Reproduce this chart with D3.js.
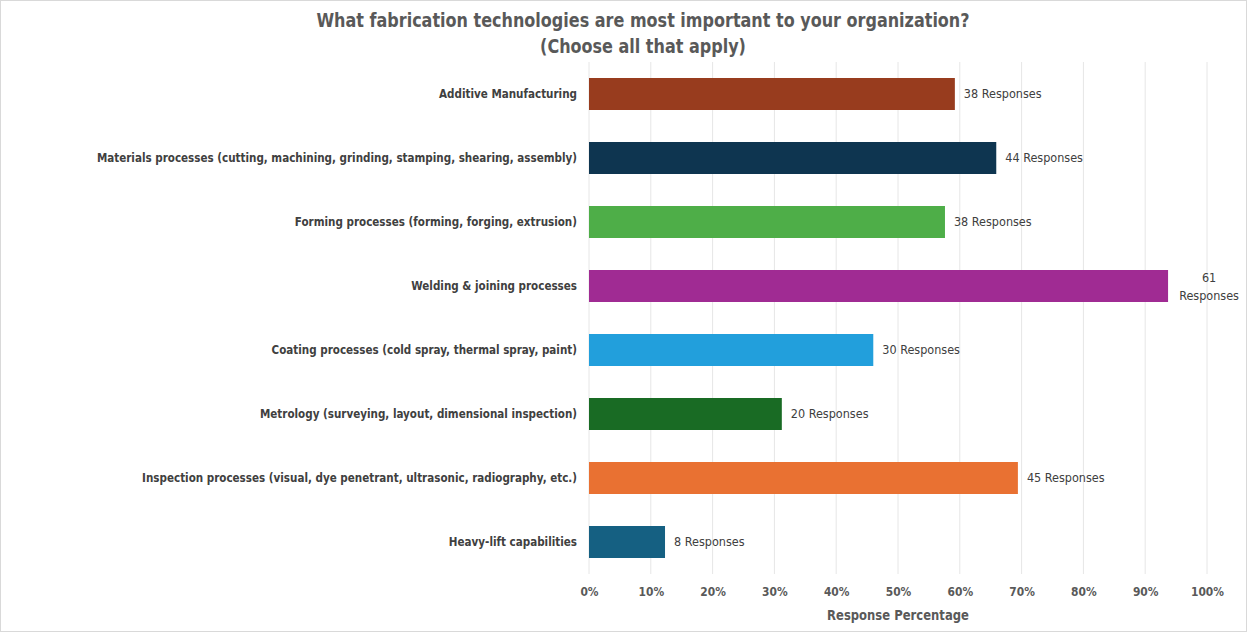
<!DOCTYPE html>
<html>
<head>
<meta charset="utf-8">
<script src="https://cdn.jsdelivr.net/npm/d3@7"></script>
<style>
  html, body { margin: 0; padding: 0; background: #ffffff; }
  svg { display: block; }
  text { font-family: "DejaVu Sans Condensed", "DejaVu Sans", sans-serif; }
</style>
</head>
<body>
<svg id="chart" width="1247" height="632"></svg>
<script>
// Survey results: fabrication technologies ranked by organisations
const categories = [
  "Additive Manufacturing",
  "Materials processes (cutting, machining, grinding, stamping, shearing, assembly)",
  "Forming processes (forming, forging, extrusion)",
  "Welding & joining processes",
  "Coating processes (cold spray, thermal spray, paint)",
  "Metrology (surveying, layout, dimensional inspection)",
  "Inspection processes (visual, dye penetrant, ultrasonic, radiography, etc.)",
  "Heavy-lift capabilities"
];
const responses = [38, 44, 38, 61, 30, 20, 45, 8];
const percentages = [0.592, 0.659, 0.576, 0.937, 0.460, 0.312, 0.694, 0.123];
const barColors = ["#983C1E", "#0E3550", "#4EAE48", "#A02B93", "#229FDC", "#196B24", "#E97132", "#156082"];
const xTicks = [0, 0.1, 0.2, 0.3, 0.4, 0.5, 0.6, 0.7, 0.8, 0.9, 1.0];

const titleLines = ["What fabrication technologies are most important to your organization?", "(Choose all that apply)"];
const xAxisTitle = "Response Percentage";

const W = 1247, H = 632;
const plot = { left: 589, right: 1207, top: 62, bottom: 574 };

const svg = d3.select("#chart");

// narrow the lettering horizontally, keeping its height
function squeeze(sel, factor) {
  sel.each(function () {
    const w = this.getComputedTextLength();
    d3.select(this).attr("textLength", w * factor).attr("lengthAdjust", "spacingAndGlyphs");
  });
}

// outer frame
svg.append("rect")
  .attr("x", 0.5).attr("y", 0.5).attr("width", W - 1).attr("height", H - 1)
  .attr("fill", "#ffffff").attr("stroke", "#d9d9d9");

const x = d3.scaleLinear().domain([0, 1]).range([plot.left, plot.right]);
const y = d3.scaleBand().domain(categories).range([plot.top, plot.bottom]).paddingInner(0.5).paddingOuter(0.25);

// title
const title = svg.append("g").selectAll("text").data(titleLines).join("text")
  .attr("x", 643).attr("y", (d, i) => 27 + i * 26)
  .attr("text-anchor", "middle")
  .attr("font-size", 20).attr("font-weight", "bold")
  .attr("fill", "#595959")
  .text(d => d);
squeeze(title, 0.89);

// vertical gridlines
svg.append("g").selectAll("line").data(xTicks).join("line")
  .attr("x1", d => x(d)).attr("x2", d => x(d))
  .attr("y1", plot.top).attr("y2", plot.bottom)
  .attr("stroke", "#e6e6e6").attr("stroke-width", 1);

// x axis tick labels
const xAxis = d3.axisBottom(x).tickValues(xTicks).tickFormat(d3.format(".0%")).tickSize(0).tickPadding(0);
const gx = svg.append("g").attr("transform", `translate(0,${plot.bottom + 22})`).call(xAxis);
gx.select(".domain").remove();
gx.selectAll("text")
  .attr("font-size", 12.5).attr("font-weight", "bold").attr("fill", "#595959")
  .attr("font-family", "\"DejaVu Sans Condensed\", \"DejaVu Sans\", sans-serif")
  .attr("dy", "0");
squeeze(gx.selectAll("text"), 0.95);

// axis title
const axTitle = svg.append("text")
  .attr("x", (plot.left + plot.right) / 2).attr("y", 620)
  .attr("text-anchor", "middle")
  .attr("font-size", 14.5).attr("font-weight", "bold").attr("fill", "#595959")
  .text(xAxisTitle);
squeeze(axTitle, 0.89);

// category labels
const yAxis = d3.axisLeft(y).tickSize(0).tickPadding(12);
const gy = svg.append("g").attr("transform", `translate(${plot.left},0)`).call(yAxis);
gy.select(".domain").remove();
gy.selectAll("text")
  .attr("font-size", 13).attr("font-weight", "bold").attr("fill", "#404040")
  .attr("font-family", "\"DejaVu Sans Condensed\", \"DejaVu Sans\", sans-serif");
squeeze(gy.selectAll("text"), 0.887);

// bars
const rows = categories.map((c, i) => ({ c, n: responses[i], p: percentages[i], color: barColors[i] }));
svg.append("g").selectAll("rect").data(rows).join("rect")
  .attr("x", x(0))
  .attr("y", d => y(d.c))
  .attr("width", d => x(d.p) - x(0))
  .attr("height", y.bandwidth())
  .attr("fill", d => d.color);

// value labels
const labels = svg.append("g").selectAll("text").data(rows).join("text")
  .attr("font-size", 12.5).attr("fill", "#404040")
  .attr("y", d => y(d.c) + y.bandwidth() / 2)
  .attr("dy", "0.35em");

labels.each(function (d) {
  const t = d3.select(this);
  const xEnd = x(d.p);
  if (xEnd + 9 + 80 > W - 6) {
    // not enough room on the right: wrap onto two lines
    const cx = xEnd + 41;
    t.attr("text-anchor", "middle").attr("dy", null);
    t.append("tspan").attr("x", cx).attr("dy", "-0.3em").text(String(d.n));
    t.append("tspan").attr("x", cx).attr("dy", "1.45em").text("Responses");
  } else {
    t.attr("x", xEnd + 9).text(`${d.n} Responses`);
  }
});
</script>
</body>
</html>
